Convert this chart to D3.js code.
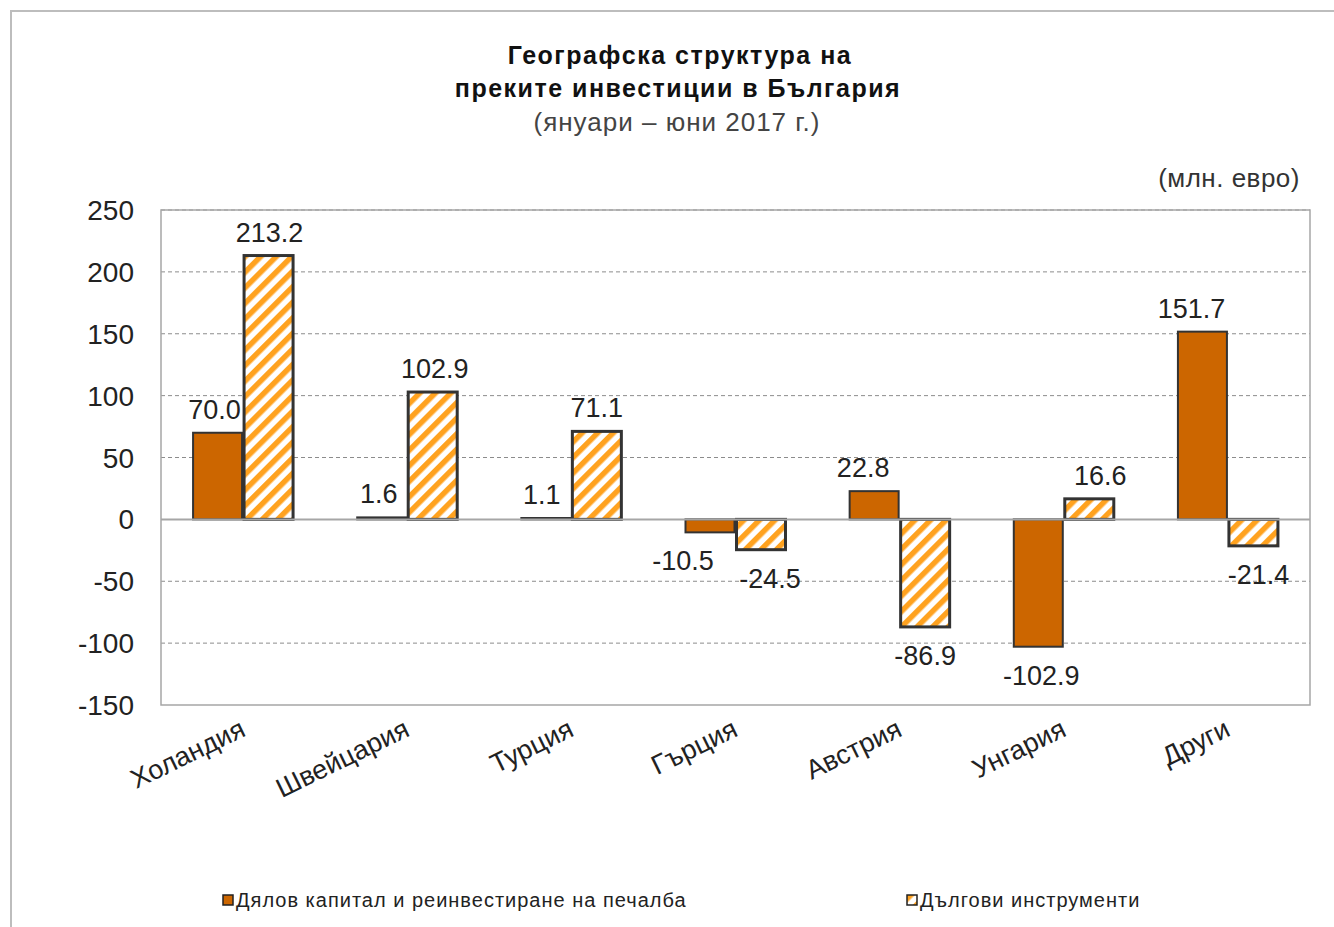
<!DOCTYPE html>
<html>
<head>
<meta charset="utf-8">
<script src="https://cdn.jsdelivr.net/npm/d3@7"></script>
<style>
  body { margin: 0; background: #fff; }
  text { font-family: "Liberation Sans", Arial, sans-serif; }
</style>
</head>
<body>
<svg width="1334" height="927"></svg>
<script>
// data
var countries = ["Холандия", "Швейцария", "Турция", "Гърция", "Австрия", "Унгария", "Други"];
var equity = [70.0, 1.6, 1.1, -10.5, 22.8, -102.9, 151.7];
var debt = [213.2, 102.9, 71.1, -24.5, -86.9, 16.6, -21.4];
var yTicks = [-150, -100, -50, 0, 50, 100, 150, 200, 250];
var seriesNames = ["Дялов капитал и реинвестиране на печалба", "Дългови инструменти"];

// small horizontal nudges for the value labels, as in the original
var equityNudge = [-3, -3, -4, -27, -11, 3, -11];
var debtNudge = [1, 2, 0, 9, 0, 11, 5];

var svg = d3.select("svg");

// outer chart frame
svg.append("path")
    .attr("d", "M11,927 L11,11 L1334,11")
    .attr("fill", "none")
    .attr("stroke", "#bdbdbd")
    .attr("stroke-width", 2);

// hatch pattern for debt bars
var defs = svg.append("defs");
var pat = defs.append("pattern")
    .attr("id", "hatch")
    .attr("patternUnits", "userSpaceOnUse")
    .attr("width", 11).attr("height", 11)
    .attr("patternTransform", "rotate(45)");
pat.append("rect").attr("width", 11).attr("height", 11).attr("fill", "#fff");
pat.append("rect").attr("width", 5.5).attr("height", 11).attr("fill", "#ffa21f");

var plotL = 161, plotR = 1310, plotT = 210, plotB = 705;

var x = d3.scaleBand().domain(countries).range([plotL, plotR]);
var y = d3.scaleLinear().domain([-150, 250]).range([plotB, plotT]);

// gridlines
svg.append("g").selectAll("line")
    .data(yTicks.filter(function(t){ return t != 0 && t != -150; }))
    .enter().append("line")
    .attr("x1", plotL).attr("x2", plotR)
    .attr("y1", function(d){ return y(d); })
    .attr("y2", function(d){ return y(d); })
    .attr("stroke", "#8c8c8c")
    .attr("stroke-dasharray", "4,3")
    .attr("stroke-width", 1);

// plot border
svg.append("rect")
    .attr("x", plotL).attr("y", plotT)
    .attr("width", plotR - plotL).attr("height", plotB - plotT)
    .attr("fill", "none")
    .attr("stroke", "#a6a6a6")
    .attr("stroke-width", 1.5);

// y axis labels
svg.append("g").selectAll("text")
    .data(yTicks)
    .enter().append("text")
    .attr("x", 134)
    .attr("y", function(d){ return y(d); })
    .attr("dy", "0.36em")
    .attr("text-anchor", "end")
    .attr("font-size", 28)
    .attr("fill", "#222")
    .text(function(d){ return d; });

var bw = 49, gap = 2;

// equity bars
svg.append("g").selectAll("rect")
    .data(equity)
    .enter().append("rect")
    .attr("x", function(d, i){ return x(countries[i]) + x.bandwidth() / 2 - bw - gap / 2; })
    .attr("y", function(d){ return y(Math.max(0, d)); })
    .attr("width", bw)
    .attr("height", function(d){ return Math.abs(y(d) - y(0)); })
    .attr("fill", "#cc6600")
    .attr("stroke", "#333")
    .attr("stroke-width", 2);

// debt bars
svg.append("g").selectAll("rect")
    .data(debt)
    .enter().append("rect")
    .attr("x", function(d, i){ return x(countries[i]) + x.bandwidth() / 2 + gap / 2; })
    .attr("y", function(d){ return y(Math.max(0, d)); })
    .attr("width", bw)
    .attr("height", function(d){ return Math.abs(y(d) - y(0)); })
    .attr("fill", "url(#hatch)")
    .attr("stroke", "#333")
    .attr("stroke-width", 3);

// zero line
svg.append("line")
    .attr("x1", plotL).attr("x2", plotR)
    .attr("y1", y(0)).attr("y2", y(0))
    .attr("stroke", "#a6a6a6")
    .attr("stroke-width", 2);

// value labels
function labels(data, offset, nudge) {
    svg.append("g").selectAll("text")
        .data(data)
        .enter().append("text")
        .attr("x", function(d, i){ return x(countries[i]) + x.bandwidth() / 2 + offset + nudge[i]; })
        .attr("y", function(d){ return d >= 0 ? y(d) - 14 : y(d) + 38; })
        .attr("text-anchor", "middle")
        .attr("font-size", 27)
        .attr("fill", "#222")
        .text(function(d){ return d.toFixed(1); });
}
labels(equity, -bw / 2 - gap / 2, equityNudge);
labels(debt, bw / 2 + gap / 2, debtNudge);

// category labels
svg.append("g").selectAll("text")
    .data(countries)
    .enter().append("text")
    .attr("transform", function(d){ return "translate(" + (x(d) + x.bandwidth() / 2 + 4) + ",735) rotate(-26)"; })
    .attr("text-anchor", "end")
    .attr("font-size", 27)
    .attr("fill", "#222")
    .text(function(d){ return d; });

// title
var title = svg.append("text").attr("text-anchor", "middle");
title.append("tspan").attr("x", 680).attr("y", 64).attr("font-size", 25).attr("font-weight", "bold")
    .attr("letter-spacing", 1.5).attr("fill", "#111").text("Географска структура на");
title.append("tspan").attr("x", 678).attr("y", 97).attr("font-size", 25).attr("font-weight", "bold")
    .attr("letter-spacing", 1.5).attr("fill", "#111").text("преките инвестиции в България");
title.append("tspan").attr("x", 677).attr("y", 131).attr("font-size", 26)
    .attr("letter-spacing", 1).attr("fill", "#444").text("(януари – юни 2017 г.)");

svg.append("text")
    .attr("x", 1300).attr("y", 187)
    .attr("text-anchor", "end")
    .attr("font-size", 26)
    .attr("letter-spacing", 0.5)
    .attr("fill", "#333")
    .text("(млн. евро)");

// legend
var legX = [223, 907];
var leg = svg.append("g").selectAll("g")
    .data(seriesNames)
    .enter().append("g")
    .attr("transform", function(d, i){ return "translate(" + legX[i] + ",895)"; });
leg.append("rect")
    .attr("width", 10).attr("height", 10)
    .attr("fill", function(d, i){ return i == 0 ? "#cc6600" : "url(#hatch)"; })
    .attr("stroke", "#222")
    .attr("stroke-width", 1.5);
leg.append("text")
    .attr("x", 13).attr("y", 12)
    .attr("font-size", 20)
    .attr("letter-spacing", 1)
    .attr("fill", "#222")
    .text(function(d){ return d; });
</script>
</body>
</html>
